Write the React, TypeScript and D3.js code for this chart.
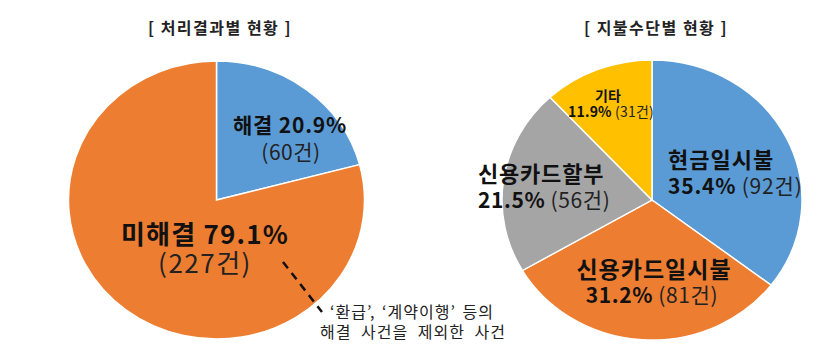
import React from "react";
import * as d3 from "d3";

const resultCategories = ["해결", "미해결"];
const resultPercents = [20.9, 79.1];
const resultCounts = [60, 227];
const resultColors = ["#5B9BD5", "#ED7D31"];

const payCategories = ["현금일시불", "신용카드일시불", "신용카드할부", "기타"];
const payPercents = [35.4, 31.2, 21.5, 11.9];
const payCounts = [92, 81, 56, 31];
const payColors = ["#5B9BD5", "#ED7D31", "#A5A5A5", "#FFC000"];

const titles = ["[ 처리결과별 현황 ]", "[ 지불수단별 현황 ]"];
const noteLines = ["‘환급’, ‘계약이행’ 등의", "해결 사건을 제외한 사건"];

const FONT = "'Noto Sans CJK KR', 'Noto Sans', sans-serif";

function Pie({ cx, cy, rx, ry, values, colors }: any) {
  const arcs = d3.pie<number>().sort(null).value((d) => d)(values);
  const arc = d3.arc<any>().innerRadius(0).outerRadius(rx);
  return (
    <g transform={`translate(${cx},${cy}) scale(1,${ry / rx})`}>
      {arcs.map((a, i) => (
        <path key={i} d={arc(a) || ""} fill={colors[i]} stroke="#fff" strokeWidth={1.5} />
      ))}
    </g>
  );
}

export default function App() {
  const L = { cx: 216.5, cy: 200, rx: 148, ry: 139 };
  const R = { cx: 652, cy: 200, rx: 150, ry: 140 };
  return (
    <svg width={825} height={361} style={{ display: "block", position: "absolute", left: 0, top: 0, background: "#fff" }} fontFamily={FONT}>
      <rect width={825} height={361} fill="#fff" />
      <text x={220} y={34} textAnchor="middle" fontSize={16} fontWeight="bold" fill="#222" letterSpacing={1.5}>{titles[0]}</text>
      <text x={656} y={34} textAnchor="middle" fontSize={16} fontWeight="bold" fill="#222" letterSpacing={1.5}>{titles[1]}</text>

      <Pie {...L} values={resultPercents} colors={resultColors} />
      <Pie {...R} values={payPercents} colors={payColors} />

      {/* left labels */}
      <text x={290} y={133} textAnchor="middle" fontSize={21} fontWeight="bold" fill="#111" letterSpacing={0.8}>
        {`${resultCategories[0]} ${resultPercents[0]}%`}
      </text>
      <text x={291} y={160} textAnchor="middle" fontSize={21} fill="#222" letterSpacing={0.5}>{`(${resultCounts[0]}건)`}</text>
      <text x={205} y={244} textAnchor="middle" fontSize={26} fontWeight="bold" fill="#111" letterSpacing={1.2}>
        {`${resultCategories[1]} ${resultPercents[1]}%`}
      </text>
      <text x={205} y={273} textAnchor="middle" fontSize={26} fill="#222" letterSpacing={1.5}>{`(${resultCounts[1]}건)`}</text>

      <line x1={283} y1={262} x2={322} y2={312} stroke="#111" strokeWidth={2.5} strokeDasharray="8,6" />
      <text x={412} y={318} textAnchor="middle" fontSize={16} fill="#222" letterSpacing={1} wordSpacing={2}>{noteLines[0]}</text>
      <text x={413} y={338} textAnchor="middle" fontSize={16} fill="#222" letterSpacing={1} wordSpacing={5}>{noteLines[1]}</text>

      {/* right labels */}
      <text x={668} y={168} fontSize={22} fontWeight="bold" fill="#111" letterSpacing={1}>{payCategories[0]}</text>
      <text x={668} y={194} fontSize={21} fill="#222" letterSpacing={0.8}>
        <tspan fontWeight="bold" fill="#111">{`${payPercents[0]}%`}</tspan>{` (${payCounts[0]}건)`}
      </text>
      <text x={654} y={278} textAnchor="middle" fontSize={23} fontWeight="bold" fill="#111" letterSpacing={1}>{payCategories[1]}</text>
      <text x={652} y={303} textAnchor="middle" fontSize={21} fill="#222" letterSpacing={0.6}>
        <tspan fontWeight="bold" fill="#111">{`${payPercents[1]}%`}</tspan>{` (${payCounts[1]}건)`}
      </text>
      <text x={478} y={182} fontSize={22} fontWeight="bold" fill="#111" letterSpacing={0.8}>{payCategories[2]}</text>
      <text x={478} y={208} fontSize={21} fill="#222" letterSpacing={0.6}>
        <tspan fontWeight="bold" fill="#111">{`${payPercents[2]}%`}</tspan>{` (${payCounts[2]}건)`}
      </text>
      <text x={608} y={101} textAnchor="middle" fontSize={14} fontWeight="bold" fill="#111">{payCategories[3]}</text>
      <text x={611} y={117} textAnchor="middle" fontSize={14} fill="#222" letterSpacing={0.2}>
        <tspan fontWeight="bold" fill="#111">{`${payPercents[3]}%`}</tspan>{` (${payCounts[3]}건)`}
      </text>
    </svg>
  );
}
